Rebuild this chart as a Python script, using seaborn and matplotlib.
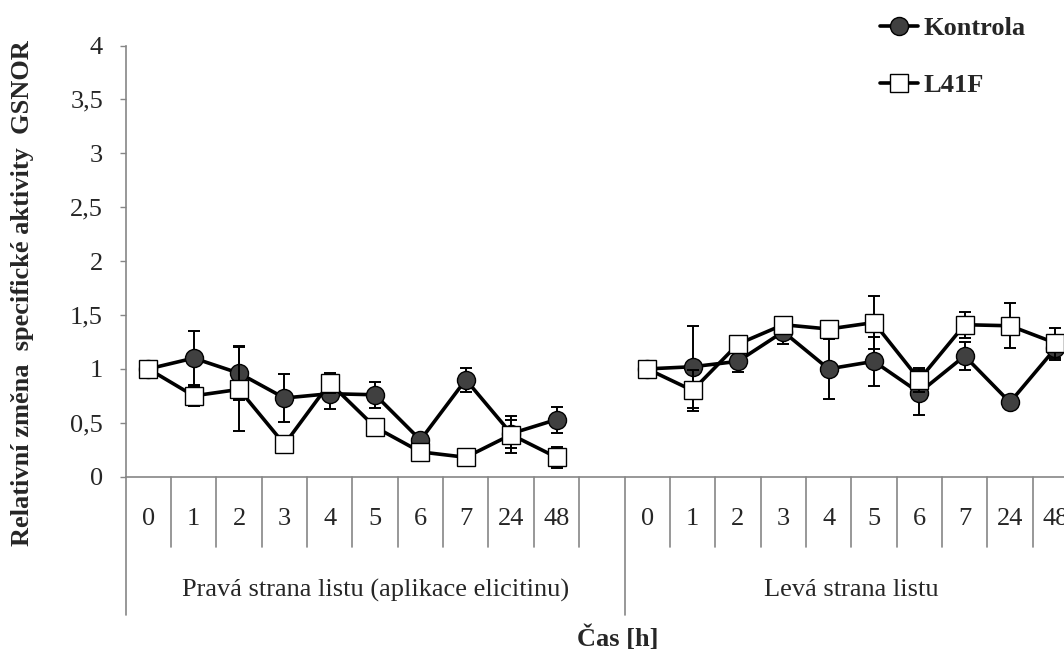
"""
Relativni zmena specificke aktivity GSNOR - Kontrola vs. L41F.
Excel-like chart with a two-level category axis.
"""

import numpy as np
import pandas as pd
import matplotlib
matplotlib.use('Agg')
import matplotlib.pyplot as plt
import matplotlib.transforms as mtransforms
import seaborn as sns

# ---- data ----
hours = ['0', '1', '2', '3', '4', '5', '6', '7', '24', '48']
sides = ['Pravá strana listu (aplikace elicitinu)', 'Levá strana listu']
series_names = ['Kontrola', 'L41F']

kontrola_prava = [1.00, 1.10, 0.96, 0.73, 0.77, 0.76, 0.34, 0.90, 0.40, 0.53]
kontrola_prava_err = [0.00, 0.25, 0.25, 0.22, 0.14, 0.12, 0.00, 0.11, 0.13, 0.12]
l41f_prava = [1.00, 0.75, 0.81, 0.30, 0.87, 0.46, 0.23, 0.18, 0.39, 0.18]
l41f_prava_err = [0.00, 0.09, 0.39, 0.08, 0.09, 0.03, 0.02, 0.02, 0.17, 0.10]

kontrola_leva = [1.00, 1.02, 1.07, 1.345, 1.00, 1.07, 0.78, 1.12, 0.69, 1.19]
kontrola_leva_err = [0.00, 0.38, 0.10, 0.11, 0.28, 0.23, 0.21, 0.13, 0.00, 0.11]
l41f_leva = [1.00, 0.80, 1.23, 1.41, 1.37, 1.43, 0.90, 1.41, 1.40, 1.24]
l41f_leva_err = [0.00, 0.19, 0.02, 0.02, 0.03, 0.25, 0.11, 0.12, 0.21, 0.14]

y_ticks = [0, 0.5, 1, 1.5, 2, 2.5, 3, 3.5, 4]
y_tick_labels = ['0', '0,5', '1', '1,5', '2', '2,5', '3', '3,5', '4']

y_label = 'Relativní změna  specifické aktivity  GSNOR'
x_label = 'Čas [h]'

# ---- long table; one empty category slot between the two sides ----
values = {
    (sides[0], 'Kontrola'): (kontrola_prava, kontrola_prava_err),
    (sides[0], 'L41F'): (l41f_prava, l41f_prava_err),
    (sides[1], 'Kontrola'): (kontrola_leva, kontrola_leva_err),
    (sides[1], 'L41F'): (l41f_leva, l41f_leva_err),
}
rows = []
for si, side in enumerate(sides):
    for name in series_names:
        vals, errs = values[(side, name)]
        for j, h in enumerate(hours):
            rows.append({'side': side, 'series': name, 'hour': h,
                         'pos': si * (len(hours) + 1) + j,
                         'value': vals[j], 'err': errs[j]})
df = pd.DataFrame(rows)
n_slots = 2 * len(hours) + 1

# ---- style ----
sns.set_style('white')
plt.rcParams['font.family'] = ['Liberation Serif', 'DejaVu Serif']
FS = 19
GRAY = '#868686'

fig = plt.figure(figsize=(10.64, 6.54), dpi=100)
W, H = 1064, 654
x0, x1, y_top, y_bot = 125.7, 1078.0, 45.5, 476.7
ax = fig.add_axes([x0 / W, 1 - y_bot / H, (x1 - x0) / W, (y_bot - y_top) / H])

marker_kw = {
    'Kontrola': dict(marker='o', markerfacecolor='#404040', markersize=13),
    'L41F': dict(marker='s', markerfacecolor='white', markersize=12.5),
}

z = 2
handles = {}
for name in series_names:
    sub = df[df['series'] == name]
    ax.errorbar(sub['pos'], sub['value'], yerr=sub['err'], fmt='none',
                ecolor='black', elinewidth=1.4, capsize=4, capthick=1.4,
                zorder=z)
    for side in sides:
        part = sub[sub['side'] == side]
        sns.lineplot(data=part, x='pos', y='value', ax=ax, color='black',
                     linewidth=2.6, markeredgecolor='black',
                     markeredgewidth=1.0, zorder=z + 1, legend=False,
                     **marker_kw[name])
    handles[name] = ax.lines[-1]
    z += 2

ax.set_xlim(-0.5, n_slots - 0.5)
ax.set_ylim(0, 4)
ax.set_yticks(y_ticks)
ax.set_yticklabels(y_tick_labels, fontsize=FS)
ax.set_xticks([])
ax.set_xlabel('')
ax.set_ylabel('')
ax.tick_params(axis='y', which='both', left=True, length=6 * 0.72,
               width=1, color=GRAY, pad=12, labelsize=FS)

for sp in ['top', 'right']:
    ax.spines[sp].set_visible(False)
for sp in ['left', 'bottom']:
    ax.spines[sp].set_color(GRAY)
    ax.spines[sp].set_linewidth(1.2)

# ---- two-level category axis ----
trans = mtransforms.blended_transform_factory(ax.transData, ax.transAxes)
ax_h = y_bot - y_top
short_end = -(546.7 - y_bot) / ax_h
long_end = -(615.0 - y_bot) / ax_h
long_idx = {0, len(hours) + 1, n_slots}
for k in range(n_slots + 1):
    end = long_end if k in long_idx else short_end
    ax.plot([k - 0.5, k - 0.5], [0, end], transform=trans, color=GRAY,
            lw=1.2, clip_on=False)

tick_y = -(519.0 - y_bot) / ax_h
group_y = -(590.0 - y_bot) / ax_h
for _, r in df[df['series'] == series_names[0]].iterrows():
    ax.text(r['pos'], tick_y, r['hour'], transform=trans, ha='center',
            va='center', fontsize=FS)
for si, side in enumerate(sides):
    start = si * (len(hours) + 1) - 0.5
    stop = (len(hours) + 1) - 0.5 if si == 0 else n_slots - 0.5
    ax.text((start + stop) / 2, group_y, side, transform=trans,
            ha='center', va='center', fontsize=FS)

# ---- titles ----
fig.text(23 / W, 1 - 293.5 / H, y_label, rotation=90, ha='center',
         va='center', fontsize=FS, fontweight='bold')
fig.text(618 / W, 1 - 638 / H, x_label, ha='center', va='center',
         fontsize=FS, fontweight='bold')

# ---- legend ----
leg = fig.legend([handles[n] for n in series_names], series_names,
                 loc='upper left', bbox_to_anchor=(880 / W, 1 - 17 / H),
                 frameon=False, borderpad=0, borderaxespad=0,
                 handlelength=1.45, handletextpad=0.2, labelspacing=1.25,
                 prop={'size': FS, 'weight': 'bold'})

fig.savefig('out.png', dpi=100)
